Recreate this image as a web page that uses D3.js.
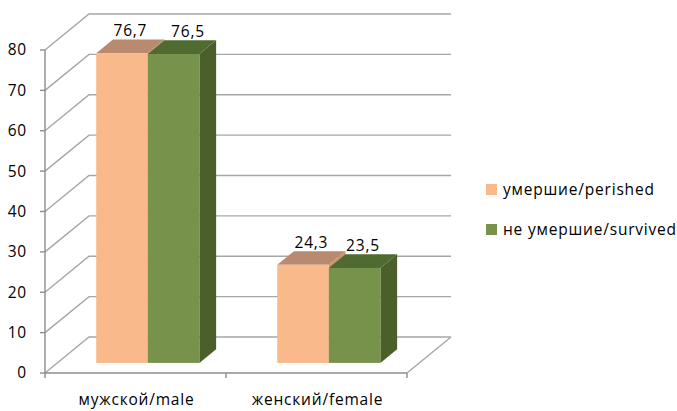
<!DOCTYPE html>
<html>
<head>
<meta charset="utf-8">
<script src="https://cdn.jsdelivr.net/npm/d3@7"></script>
<style>
  body { margin: 0; background: #fff; }
  text { font-family: "Open Sans", "Liberation Sans", sans-serif; fill: #000; letter-spacing: 0.8px; }
</style>
</head>
<body>
<div id="chart"></div>
<script>
// Data
const categories = ["мужской/male", "женский/female"];
const seriesNames = ["умершие/perished", "не умершие/survived"];
const perished = [76.7, 24.3];
const survived = [76.5, 23.5];
const yTicks = [0, 10, 20, 30, 40, 50, 60, 70, 80];

// SVG size
const svgWidth = 677;
const svgHeight = 411;

// depth of the 3D box (full depth offset)
const depthX = 44;
const depthY = -36;
// bars sit between these depth fractions
const z0 = 0.28;
const z1 = 0.66;

const fontSize = "15.5px";

const colors = [
  { front: "#f9b98b", top: "#b88b70", side: "#c9956f" },
  { front: "#77934b", top: "#4f6b2f", side: "#4a5f2a" }
];

const svg = d3.select("#chart")
  .append("svg")
  .attr("width", svgWidth)
  .attr("height", svgHeight);

// front-plane scales
const xScale = d3.scaleBand()
  .domain(categories)
  .range([45, 407]);

const yScale = d3.scaleLinear()
  .domain([0, 80])
  .range([373, 50]);

const groupW = xScale.bandwidth() * 0.57;
const xSub = d3.scaleBand()
  .domain(seriesNames)
  .range([(xScale.bandwidth() - groupW) / 2, (xScale.bandwidth() + groupW) / 2]);

// project a front-plane point to a given depth
const P = (x, y, z) => [x + z * depthX, y + z * depthY];
const poly = pts => pts.map(p => p.join(",")).join(" ");

const x0 = xScale.range()[0];
const x1 = xScale.range()[1];

// Gridlines: left wall + back wall
const grid = svg.append("g");
yTicks.forEach(t => {
  const a = P(x0, yScale(t), 0);
  const b = P(x0, yScale(t), 1);
  const c = P(x1, yScale(t), 1);
  grid.append("polyline")
    .attr("points", poly([a, b, c]))
    .attr("fill", "none")
    .attr("stroke", "#a6a6a6")
    .attr("stroke-width", 1.4);
});

// floor right edge
const fr0 = P(x1, yScale(0), 0);
const fr1 = P(x1, yScale(0), 1);
grid.append("line")
  .attr("x1", fr0[0]).attr("y1", fr0[1])
  .attr("x2", fr1[0]).attr("y2", fr1[1])
  .attr("stroke", "#a6a6a6")
  .attr("stroke-width", 1.4);

// Axes
svg.append("line")
  .attr("x1", x0).attr("y1", yScale(0))
  .attr("x2", x0).attr("y2", yScale(80))
  .attr("stroke", "#8c8c8c").attr("stroke-width", 1.4);

svg.append("line")
  .attr("x1", x0).attr("y1", yScale(0))
  .attr("x2", x1).attr("y2", yScale(0))
  .attr("stroke", "#8c8c8c").attr("stroke-width", 1.4);

// y ticks
svg.selectAll("line.ytick")
  .data(yTicks)
  .enter()
  .append("line")
  .attr("class", "ytick")
  .attr("x1", x0 - 5).attr("x2", x0)
  .attr("y1", d => yScale(d)).attr("y2", d => yScale(d))
  .attr("stroke", "#8c8c8c").attr("stroke-width", 1.4);

svg.selectAll("text.ylab")
  .data(yTicks)
  .enter()
  .append("text")
  .attr("class", "ylab")
  .attr("x", 27)
  .attr("y", d => yScale(d))
  .attr("dy", "0.35em")
  .style("text-anchor", "end")
  .style("font-size", fontSize)
  .text(d => d);

// x ticks at category boundaries
const xTickPos = [x0].concat(categories.map(c => xScale(c) + xScale.bandwidth()));
svg.selectAll("line.xtick")
  .data(xTickPos)
  .enter()
  .append("line")
  .attr("class", "xtick")
  .attr("x1", d => d).attr("x2", d => d)
  .attr("y1", yScale(0)).attr("y2", yScale(0) + 5)
  .attr("stroke", "#8c8c8c").attr("stroke-width", 1.4);

svg.selectAll("text.xlab")
  .data(categories)
  .enter()
  .append("text")
  .attr("class", "xlab")
  .attr("x", d => xScale(d) + xScale.bandwidth() / 2 + 1)
  .attr("y", 405)
  .style("text-anchor", "middle")
  .style("font-size", fontSize)
  .text(d => d);

// Bars
const values = [perished, survived];
const bars = [];
categories.forEach((c, ci) => {
  seriesNames.forEach((s, si) => {
    bars.push({ cat: c, series: s, si: si, value: values[si][ci] });
  });
});

const barG = svg.append("g");
bars.forEach(d => {
  const bx0 = xScale(d.cat) + xSub(d.series);
  const bx1 = bx0 + xSub.bandwidth();
  const yt = yScale(d.value);
  const yb = yScale(0);
  const col = colors[d.si];

  // side face
  barG.append("polygon")
    .attr("points", poly([P(bx1, yt, z0), P(bx1, yb, z0), P(bx1, yb, z1), P(bx1, yt, z1)]))
    .attr("fill", col.side);
  // top face
  barG.append("polygon")
    .attr("points", poly([P(bx0, yt, z0), P(bx1, yt, z0), P(bx1, yt, z1), P(bx0, yt, z1)]))
    .attr("fill", col.top);
  // front face
  const f0 = P(bx0, yt, z0);
  const f1 = P(bx1, yb, z0);
  barG.append("rect")
    .attr("x", f0[0]).attr("y", f0[1])
    .attr("width", f1[0] - f0[0])
    .attr("height", f1[1] - f0[1])
    .attr("fill", col.front);

  // value label
  const lab = P((bx0 + bx1) / 2, yt, (z0 + z1) / 2);
  svg.append("text")
    .attr("x", lab[0] + (d.si === 1 && d.value > 50 ? 6 : 0))
    .attr("y", lab[1] - 10)
    .style("text-anchor", "middle")
    .style("font-size", fontSize)
    .text(d3.format(".1f")(d.value).replace(".", ","));
});

// Legend
const legend = svg.append("g")
  .attr("transform", "translate(486, 184)");

const legendItem = legend.selectAll("g")
  .data(seriesNames)
  .enter()
  .append("g")
  .attr("transform", (d, i) => `translate(0, ${i * 40})`);

legendItem.append("rect")
  .attr("width", 11)
  .attr("height", 11)
  .attr("fill", (d, i) => colors[i].front);

legendItem.append("text")
  .attr("x", 17)
  .attr("y", 11)
  .style("font-size", fontSize)
  .text(d => d);
</script>
</body>
</html>
